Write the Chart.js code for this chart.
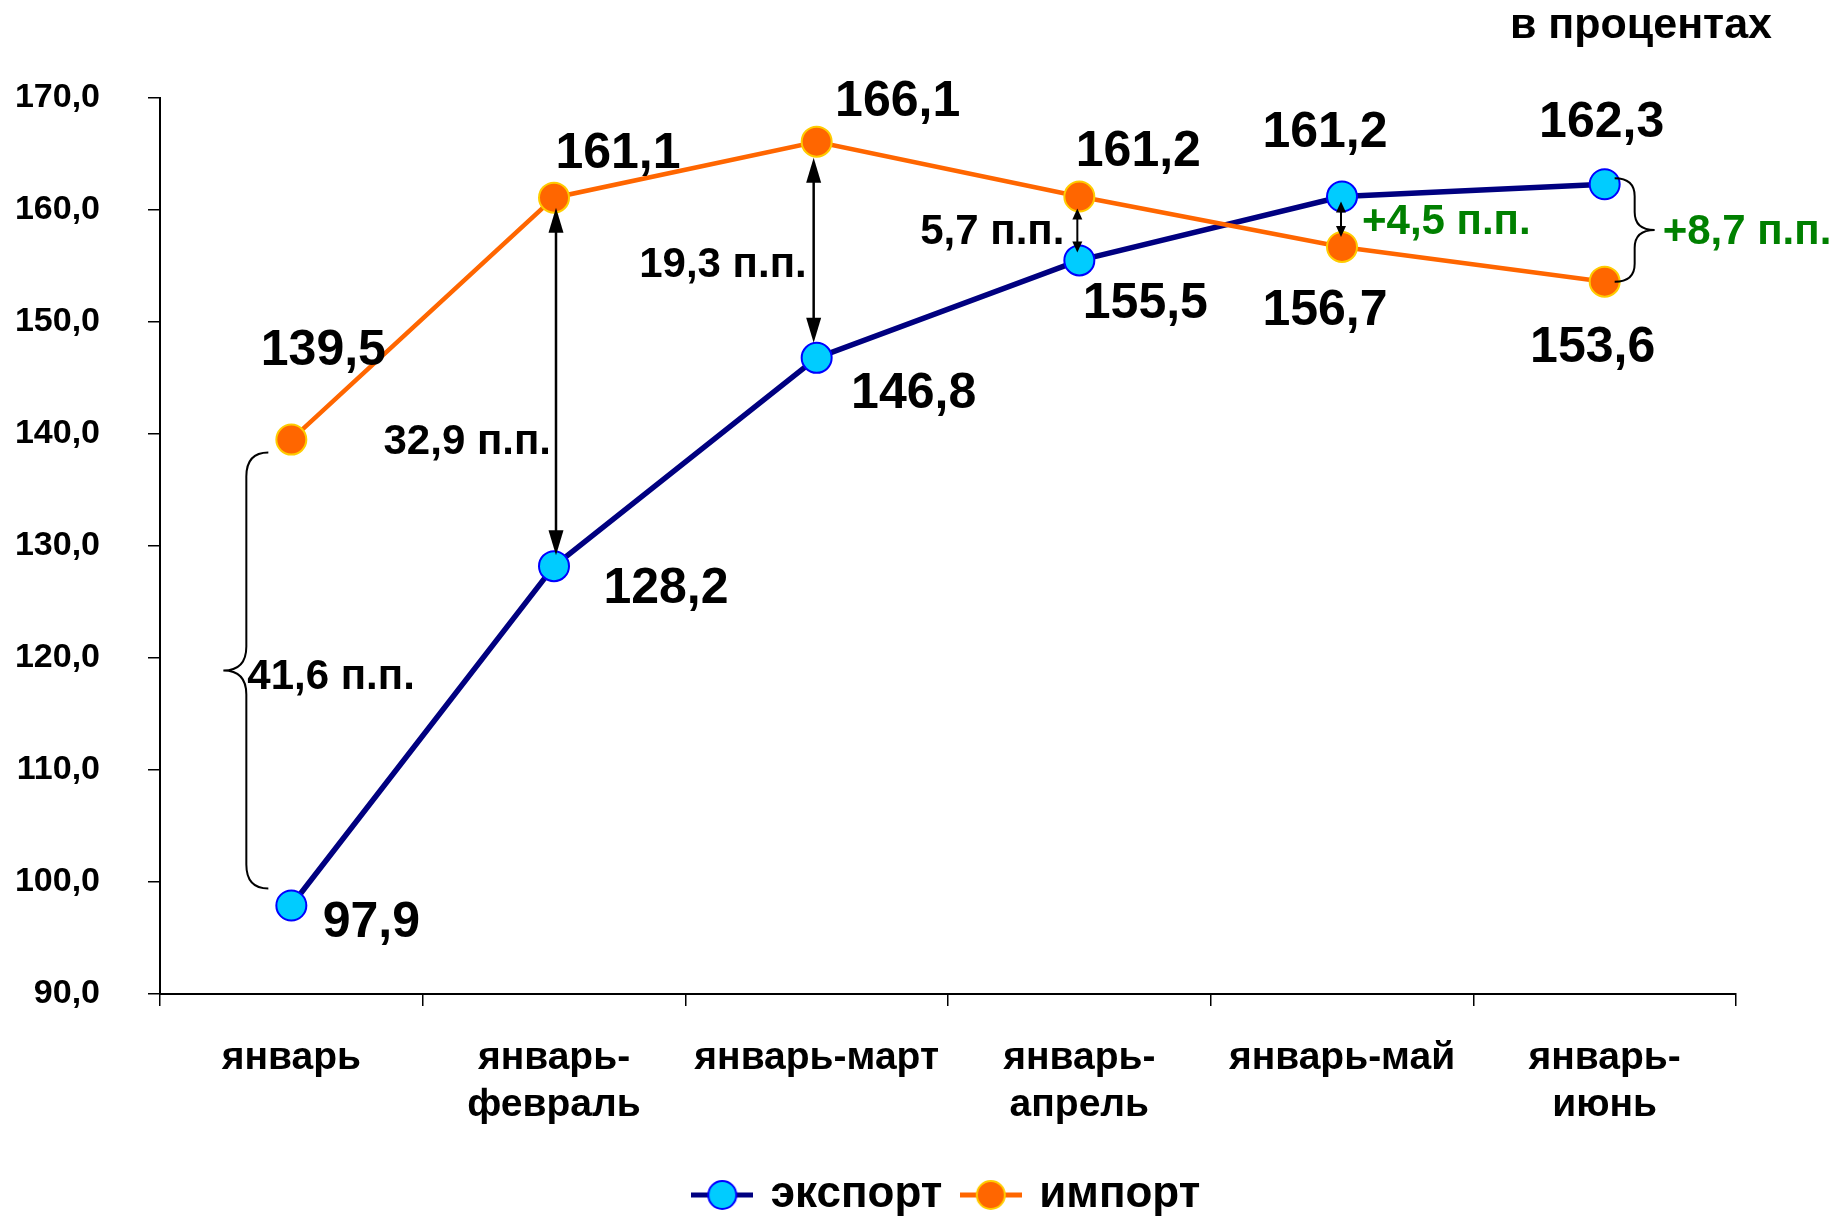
<!DOCTYPE html>
<html><head><meta charset="utf-8">
<script src="https://cdn.jsdelivr.net/npm/chart.js@4.4.0/dist/chart.umd.min.js"></script>
<style>html,body{margin:0;padding:0;background:#fff;}</style>
</head><body>
<canvas id="c" width="1839" height="1218"></canvas>
<script>
// ---- data ----
const categories = [['январь'], ['январь-', 'февраль'], ['январь-март'], ['январь-', 'апрель'], ['январь-май'], ['январь-', 'июнь']];
const seriesNames = ['экспорт', 'импорт'];
const exportValues = [97.9, 128.2, 146.8, 155.5, 161.2, 162.3];
const importValues = [139.5, 161.1, 166.1, 161.2, 156.7, 153.6];
const yMin = 90, yMax = 170, yStep = 10;
const unitLabel = 'в процентах';
const gapSuffix = ' п.п.';

// ---- styles / placements ----
const FONT = '"Liberation Sans", Arial, sans-serif';
const exportLabelOffsets = [[80, 18], [112, 23], [97, 36], [66, 44], [-17, -63], [-3, -61]];
const importLabelOffsets = [[32, -88], [64, -43], [81, -39], [59, -44], [-17, 64], [-12, 67]];
const gapStyles = [
  {kind: 'brace', endDx: -23, stemDx: -45, tipDx: -68, topGap: 13, botGap: 17, r: 24, align: 'left', lx: -44, ly: 5, color: '#000', size: 42},
  {kind: 'arrow', dx: 2, topGap: 10, botGap: 11, hl: 25, hw: 15, lw: 2.5, align: 'right', lx: -3, ly: 61, color: '#000', size: 42},
  {kind: 'arrow', dx: -3, topGap: 16, botGap: 15, hl: 25, hw: 15, lw: 2.5, align: 'right', lx: -10, ly: 16, color: '#000', size: 42},
  {kind: 'arrow', dx: -2, topGap: 12, botGap: 8, hl: 11, hw: 10, lw: 2, align: 'right', lx: -15, ly: 4, color: '#000', size: 42},
  {kind: 'arrow', dx: -1, topGap: 5, botGap: 10, hl: 11, hw: 10, lw: 2, align: 'left', lx: 20, ly: 1, color: '#008000', size: 42},
  {kind: 'brace', endDx: 10, stemDx: 30, tipDx: 50, topGap: -6, botGap: 0, r: 18, align: 'left', lx: 58, ly: -1, color: '#008000', size: 42}
];

function fmt(v) { return v.toFixed(1).replace('.', ','); }

function makeIcon(line, fill, border) {
  const c = document.createElement('canvas');
  c.width = 62; c.height = 34;
  const g = c.getContext('2d');
  g.strokeStyle = line; g.lineWidth = 5;
  g.beginPath(); g.moveTo(0, 17); g.lineTo(62, 17); g.stroke();
  g.beginPath(); g.arc(31, 17, 14, 0, Math.PI * 2);
  g.fillStyle = fill; g.fill();
  g.lineWidth = 2; g.strokeStyle = border; g.stroke();
  return c;
}
const legendIcons = [makeIcon('#000080', '#00CCFF', '#0000FF'), makeIcon('#FF6600', '#FF6600', '#FFCC00')];

const annotations = {
  id: 'annotations',
  afterDatasetsDraw(chart) {
    const ctx = chart.ctx;
    const mE = chart.getDatasetMeta(0).data;
    const mI = chart.getDatasetMeta(1).data;
    ctx.save();
    gapStyles.forEach((s, i) => {
      const x = mE[i].x;
      const yA = Math.min(mE[i].y, mI[i].y);
      const yB = Math.max(mE[i].y, mI[i].y);
      const mid = (yA + yB) / 2;
      ctx.strokeStyle = '#000'; ctx.fillStyle = '#000';
      if (s.kind === 'arrow') {
        const ax = x + s.dx, t = yA + s.topGap, b = yB - s.botGap;
        ctx.lineWidth = s.lw;
        ctx.beginPath(); ctx.moveTo(ax, t + s.hl * 0.8); ctx.lineTo(ax, b - s.hl * 0.8); ctx.stroke();
        ctx.beginPath(); ctx.moveTo(ax, t); ctx.lineTo(ax - s.hw / 2, t + s.hl); ctx.lineTo(ax + s.hw / 2, t + s.hl); ctx.closePath(); ctx.fill();
        ctx.beginPath(); ctx.moveTo(ax, b); ctx.lineTo(ax - s.hw / 2, b - s.hl); ctx.lineTo(ax + s.hw / 2, b - s.hl); ctx.closePath(); ctx.fill();
      } else {
        const xe = x + s.endDx, xs = x + s.stemDx, xt = x + s.tipDx;
        const t = yA + s.topGap, b = yB - s.botGap, m = (t + b) / 2, r = s.r;
        ctx.lineWidth = 2;
        ctx.beginPath();
        ctx.moveTo(xe, t);
        ctx.quadraticCurveTo(xs, t, xs, t + r);
        ctx.lineTo(xs, m - r);
        ctx.quadraticCurveTo(xs, m, xt, m);
        ctx.quadraticCurveTo(xs, m, xs, m + r);
        ctx.lineTo(xs, b - r);
        ctx.quadraticCurveTo(xs, b, xe, b);
        ctx.stroke();
      }
      const diff = exportValues[i] - importValues[i];
      const txt = (diff > 0 ? '+' : '') + fmt(Math.abs(diff)) + gapSuffix;
      ctx.font = 'bold ' + s.size + 'px ' + FONT;
      ctx.fillStyle = s.color;
      ctx.textAlign = s.align; ctx.textBaseline = 'middle';
      ctx.fillText(txt, x + s.lx, mid + s.ly);
    });
    ctx.font = 'bold 50px ' + FONT;
    ctx.fillStyle = '#000'; ctx.textAlign = 'center'; ctx.textBaseline = 'middle';
    exportValues.forEach((v, i) => {
      ctx.fillText(fmt(v), mE[i].x + exportLabelOffsets[i][0], mE[i].y + exportLabelOffsets[i][1]);
    });
    importValues.forEach((v, i) => {
      ctx.fillText(fmt(v), mI[i].x + importLabelOffsets[i][0], mI[i].y + importLabelOffsets[i][1]);
    });
    ctx.font = 'bold 43px ' + FONT;
    ctx.textAlign = 'right'; ctx.textBaseline = 'alphabetic';
    ctx.fillText(unitLabel, 1772, 38);
    ctx.restore();
  }
};

Chart.defaults.font.family = FONT;
Chart.defaults.font.weight = 'bold';
Chart.defaults.color = '#000';

new Chart(document.getElementById('c'), {
  type: 'line',
  data: {
    labels: categories,
    datasets: [
      {label: seriesNames[0], data: exportValues, borderColor: '#000080', borderWidth: 5.5,
       pointRadius: 15, pointBackgroundColor: '#00CCFF', pointBorderColor: '#0000FF', pointBorderWidth: 2,
       tension: 0, order: 1},
      {label: seriesNames[1], data: importValues, borderColor: '#FF6600', borderWidth: 4.5,
       pointRadius: 15, pointBackgroundColor: '#FF6600', pointBorderColor: '#FFCC00', pointBorderWidth: 2,
       tension: 0, order: 0}
    ]
  },
  options: {
    responsive: false,
    devicePixelRatio: 1,
    animation: false,
    events: [],
    layout: {padding: {top: 98, right: 103, left: 0, bottom: -9}},
    scales: {
      x: {
        offset: true,
        grid: {offset: true, drawOnChartArea: false, tickLength: 12, color: '#000', lineWidth: 1.5},
        border: {color: '#000', width: 2},
        ticks: {padding: 29, color: '#000', maxRotation: 0, autoSkip: false,
                font: {size: 39, weight: 'bold', lineHeight: 1.2}},
        afterFit: s => { s.height = 157; }
      },
      y: {
        min: yMin, max: yMax,
        grid: {drawOnChartArea: false, tickLength: 12, color: '#000', lineWidth: 1.5},
        border: {color: '#000', width: 2},
        ticks: {stepSize: yStep, padding: 48, color: '#000', font: {size: 34, weight: 'bold'},
                callback: v => fmt(v)},
        afterFit: s => { s.width = 160; }
      }
    },
    plugins: {
      tooltip: {enabled: false},
      legend: {
        position: 'bottom',
        fullSize: false,
        labels: {
          usePointStyle: true, pointStyleWidth: 53, padding: 22, color: '#000',
          font: {size: 44, weight: 'bold'},
          generateLabels: chart => chart.data.datasets.map((ds, i) => ({
            text: ds.label, pointStyle: legendIcons[i], datasetIndex: i, hidden: false,
            lineWidth: 0, fillStyle: 'rgba(0,0,0,0)', strokeStyle: 'rgba(0,0,0,0)', fontColor: '#000'
          }))
        }
      }
    }
  },
  plugins: [annotations]
});
</script>
</body></html>
